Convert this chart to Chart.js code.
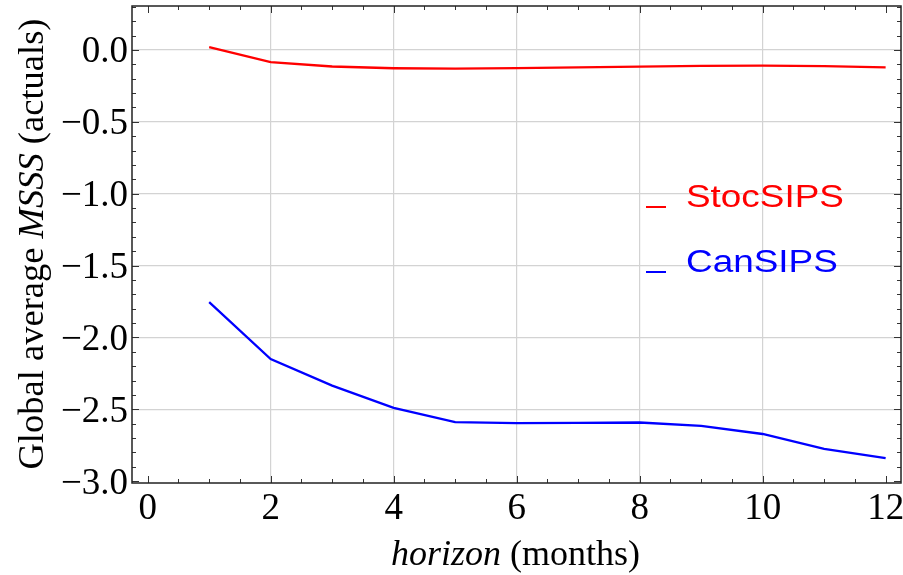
<!DOCTYPE html>
<html>
<head>
<meta charset="utf-8">
<script src="https://cdn.jsdelivr.net/npm/chart.js@4/dist/chart.umd.min.js"></script>
<style>
  html, body { margin: 0; padding: 0; background: #fff; }
  canvas { display: block; }
</style>
</head>
<body>
<canvas id="chart" width="903" height="575" style="width:903px;height:575px"></canvas>
<script>
// Forecast horizon in months
const horizon = [1, 2, 3, 4, 5, 6, 7, 8, 9, 10, 11, 12];

// Global average MSSS against actuals
const stocSIPS = [0.02, -0.085, -0.115, -0.127, -0.130, -0.126, -0.121, -0.116, -0.110, -0.109, -0.112, -0.121];
const canSIPS = [-1.755, -2.150, -2.335, -2.490, -2.590, -2.597, -2.594, -2.592, -2.615, -2.672, -2.775, -2.840];

// Labelled ticks
const xTickValues = [0, 2, 4, 6, 8, 10, 12];
const yTickValues = [0.0, -0.5, -1.0, -1.5, -2.0, -2.5, -3.0];

// Unlabelled minor tick spacing
const xMinorStep = 0.5;
const yMinorStep = 0.1;

const seriesNames = ['StocSIPS', 'CanSIPS'];
const seriesColors = ['#ff0000', '#0000ff'];

const SERIF = '"Liberation Serif", "Times New Roman", serif';
const SANS = '"Liberation Sans", Arial, sans-serif';

function fmtY(v) {
  const s = Math.abs(v).toFixed(1);
  return (v < -1e-9 ? '\u2212' : '') + s;
}

// Frame, inward ticks, tick labels, axis titles and the legend
const framePlugin = {
  id: 'frame',
  afterDraw(chart) {
    const ctx = chart.ctx;
    const a = chart.chartArea;
    const xs = chart.scales.x, ys = chart.scales.y;
    ctx.save();

    // ticks on all four sides
    ctx.strokeStyle = '#333';
    ctx.lineWidth = 1;
    const majorLen = 7, minorLen = 4;
    const xStart = Math.ceil(xs.min / xMinorStep);
    const xEnd = Math.floor(xs.max / xMinorStep);
    for (let i = xStart; i <= xEnd; i++) {
      const v = i * xMinorStep;
      const px = Math.round(xs.getPixelForValue(v)) + 0.5;
      const major = xTickValues.some(t => Math.abs(t - v) < 1e-6);
      const len = major ? majorLen : minorLen;
      ctx.beginPath();
      ctx.moveTo(px, a.bottom); ctx.lineTo(px, a.bottom - len);
      ctx.moveTo(px, a.top); ctx.lineTo(px, a.top + len);
      ctx.stroke();
    }
    const yStart = Math.ceil(ys.min / yMinorStep - 1e-6);
    const yEnd = Math.floor(ys.max / yMinorStep + 1e-6);
    for (let i = yStart; i <= yEnd; i++) {
      const v = i * yMinorStep;
      const py = Math.round(ys.getPixelForValue(v)) + 0.5;
      const major = yTickValues.some(t => Math.abs(t - v) < 1e-6);
      const len = major ? majorLen : minorLen;
      ctx.beginPath();
      ctx.moveTo(a.left, py); ctx.lineTo(a.left + len, py);
      ctx.moveTo(a.right, py); ctx.lineTo(a.right - len, py);
      ctx.stroke();
    }

    // frame
    ctx.strokeStyle = '#222';
    ctx.lineWidth = 1.5;
    ctx.strokeRect(a.left, a.top, a.right - a.left, a.bottom - a.top);

    // tick labels
    const tickSize = 37;
    ctx.fillStyle = '#000';
    ctx.font = tickSize + 'px ' + SERIF;
    ctx.textBaseline = 'alphabetic';
    ctx.textAlign = 'right';
    yTickValues.forEach(v => {
      const py = ys.getPixelForValue(v);
      ctx.fillText(fmtY(v), a.left - 4, py + tickSize * 0.335);
    });
    ctx.textAlign = 'center';
    xTickValues.forEach(v => {
      const px = xs.getPixelForValue(v);
      ctx.fillText(String(v), px, 519);
    });

    // axis titles with mixed italic runs
    function drawRuns(runs, cx, cy, size) {
      let total = 0;
      const widths = runs.map(r => {
        ctx.font = (r.italic ? 'italic ' : '') + size + 'px ' + SERIF;
        const w = ctx.measureText(r.text).width;
        total += w;
        return w;
      });
      let x = cx - total / 2;
      ctx.textAlign = 'left';
      ctx.textBaseline = 'alphabetic';
      runs.forEach((r, i) => {
        ctx.font = (r.italic ? 'italic ' : '') + size + 'px ' + SERIF;
        ctx.fillText(r.text, x, cy);
        x += widths[i];
      });
    }
    drawRuns([{ text: 'horizon', italic: true }, { text: ' (months)', italic: false }],
      (a.left + a.right) / 2 - 1, 565, 36);

    ctx.save();
    ctx.translate(43, 244);
    ctx.rotate(-Math.PI / 2);
    drawRuns([
      { text: 'Global average ', italic: false },
      { text: 'MSSS', italic: true },
      { text: ' (actuals)', italic: false }
    ], 0, 0, 36.5);
    ctx.restore();

    // legend
    const legendRows = [207, 272];
    chart.data.datasets.forEach((ds, i) => {
      const by = legendRows[i];
      ctx.strokeStyle = ds.borderColor;
      ctx.lineWidth = 2;
      ctx.beginPath();
      ctx.moveTo(646, by);
      ctx.lineTo(666, by);
      ctx.stroke();
      ctx.save();
      ctx.translate(686, by);
      ctx.scale(1.19, 1);
      ctx.fillStyle = ds.borderColor;
      ctx.font = '31px ' + SANS;
      ctx.textAlign = 'left';
      ctx.textBaseline = 'alphabetic';
      ctx.fillText(ds.label, 0, 0);
      ctx.restore();
    });

    ctx.restore();
  }
};

const gridColor = '#d3d3d3';

new Chart(document.getElementById('chart'), {
  type: 'line',
  data: {
    labels: horizon,
    datasets: [
      {
        label: seriesNames[0],
        data: horizon.map((h, i) => ({ x: h, y: stocSIPS[i] })),
        borderColor: seriesColors[0],
        backgroundColor: seriesColors[0],
        borderWidth: 2.3,
        pointRadius: 0,
        tension: 0,
        fill: false
      },
      {
        label: seriesNames[1],
        data: horizon.map((h, i) => ({ x: h, y: canSIPS[i] })),
        borderColor: seriesColors[1],
        backgroundColor: seriesColors[1],
        borderWidth: 2.3,
        pointRadius: 0,
        tension: 0,
        fill: false
      }
    ]
  },
  options: {
    responsive: false,
    animation: false,
    devicePixelRatio: 1,
    layout: { padding: { left: 0, top: 6, right: 2, bottom: 0 } },
    plugins: {
      legend: { display: false },
      tooltip: { enabled: false }
    },
    scales: {
      x: {
        type: 'linear',
        min: -0.255,
        max: 12.25,
        afterBuildTicks(scale) { scale.ticks = xTickValues.map(v => ({ value: v })); },
        afterFit(scale) { scale.height = 92; },
        ticks: { display: false },
        border: { display: false },
        grid: {
          drawTicks: false,
          lineWidth: 1.2,
          color: c => (c.tick && (c.tick.value === 0 || c.tick.value === 12)) ? 'rgba(0,0,0,0)' : gridColor
        }
      },
      y: {
        type: 'linear',
        min: -3.013,
        max: 0.306,
        afterBuildTicks(scale) { scale.ticks = yTickValues.map(v => ({ value: v })); },
        afterFit(scale) { scale.width = 132; },
        ticks: { display: false },
        border: { display: false },
        grid: {
          drawTicks: false,
          lineWidth: 1.2,
          color: c => (c.tick && c.tick.value === -3) ? 'rgba(0,0,0,0)' : gridColor
        }
      }
    }
  },
  plugins: [framePlugin]
});
</script>
</body>
</html>
